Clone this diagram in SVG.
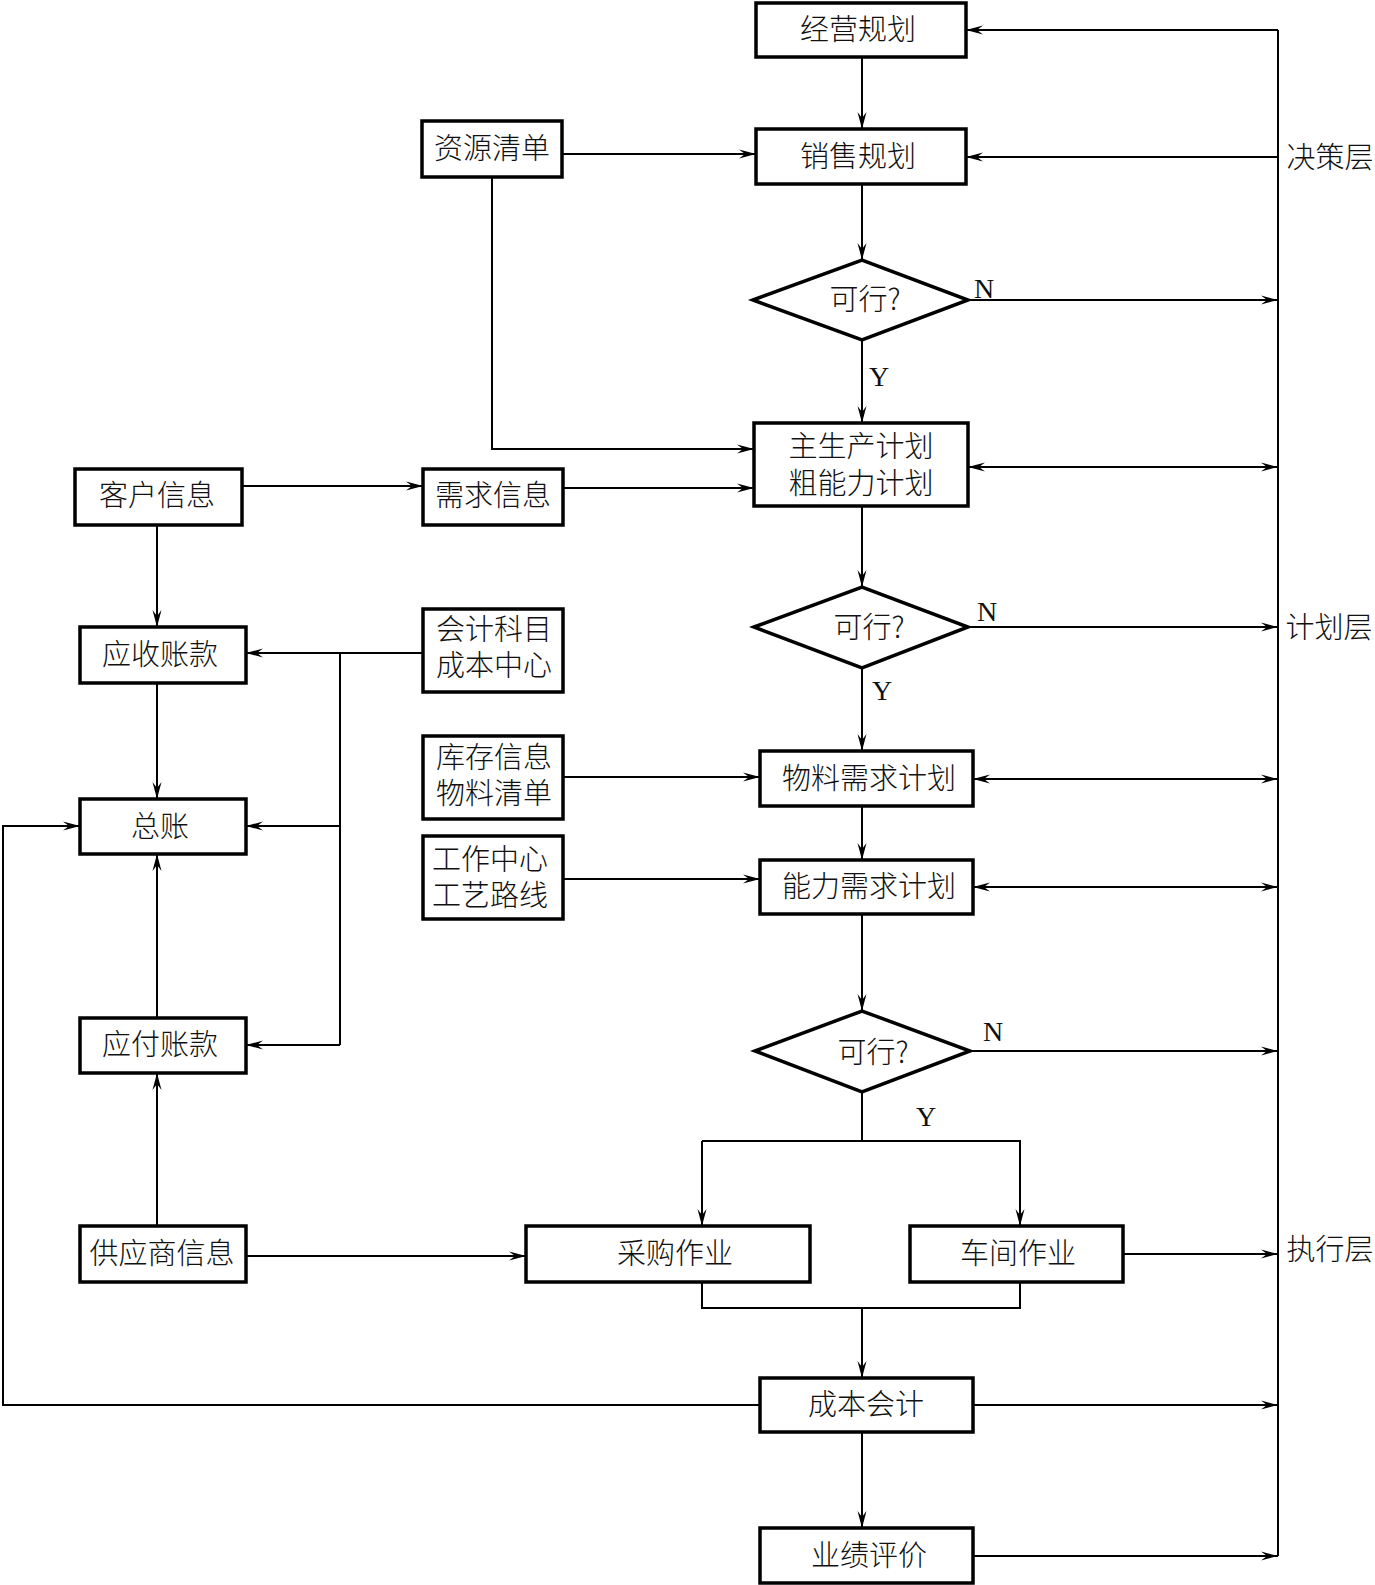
<svg xmlns="http://www.w3.org/2000/svg" width="1375" height="1585" viewBox="0 0 1375 1585">
<style>
.box{fill:#fff;stroke:#000;stroke-width:3.5}
.t{font-family:"Noto Sans CJK SC","Noto Sans",sans-serif;font-size:29px;font-weight:300;text-anchor:middle;fill:#111}
.l{font-family:"Liberation Serif",serif;font-size:28px;fill:#111}
.c{fill:none;stroke:#000;stroke-width:2}
.a{marker-end:url(#ah)}
.d{marker-start:url(#ah);marker-end:url(#ah)}
</style>
<defs>
<marker id="ah" markerUnits="userSpaceOnUse" markerWidth="20" markerHeight="12" viewBox="-18 -6 20 12" refX="0" refY="0" orient="auto-start-reverse">
<path d="M0,0 L-17,-4.5 L-11,0 L-17,4.5 Z" fill="#000"/>
</marker>
</defs>
<rect width="1375" height="1585" fill="#fff"/>
<g id="connectors">
<path class="c" d="M1278,30 V1556"/>
<path class="c a" d="M1278,30 H966"/>
<path class="c a" d="M1278,157 H966"/>
<path class="c a" d="M862,57 V129"/>
<path class="c a" d="M562,154 H756"/>
<path class="c a" d="M492,177 V449 H754"/>
<path class="c a" d="M862,184 V260"/>
<path class="c a" d="M968,300 H1278"/>
<path class="c a" d="M862,340 V423"/>
<path class="c a" d="M242,486 H423"/>
<path class="c a" d="M563,488 H754"/>
<path class="c d" d="M968,467 H1278"/>
<path class="c a" d="M862,506 V587"/>
<path class="c a" d="M968,627 H1278"/>
<path class="c a" d="M862,668 V751"/>
<path class="c a" d="M563,777 H760"/>
<path class="c d" d="M973,779 H1278"/>
<path class="c a" d="M862,806 V860"/>
<path class="c a" d="M563,879 H760"/>
<path class="c d" d="M973,887 H1278"/>
<path class="c a" d="M862,914 V1011"/>
<path class="c a" d="M970,1051 H1278"/>
<path class="c" d="M862,1092 V1141"/>
<path class="c a" d="M702,1141 V1226"/>
<path class="c a" d="M702,1141 H1020 V1226"/>
<path class="c a" d="M1123,1254 H1278"/>
<path class="c" d="M702,1282 V1308 H1020 V1282"/>
<path class="c a" d="M862,1308 V1378"/>
<path class="c a" d="M973,1405 H1278"/>
<path class="c a" d="M760,1405 H3 V826 H80"/>
<path class="c a" d="M862,1432 V1528"/>
<path class="c a" d="M973,1556 H1278"/>
<path class="c a" d="M157,525 V627"/>
<path class="c a" d="M157,683 V799"/>
<path class="c a" d="M157,1018 V854"/>
<path class="c a" d="M157,1226 V1073"/>
<path class="c a" d="M246,1256 H526"/>
<path class="c a" d="M423,653 H246"/>
<path class="c" d="M340,653 V1045"/>
<path class="c a" d="M340,826 H246"/>
<path class="c a" d="M340,1045 H246"/>
</g>
<g id="labels">
<text class="l" x="974" y="298">N</text>
<text class="l" x="869" y="386">Y</text>
<text class="l" x="977" y="621">N</text>
<text class="l" x="872" y="700">Y</text>
<text class="l" x="983" y="1041">N</text>
<text class="l" x="916" y="1126">Y</text>
</g>
<g id="n-jyjh"><rect class="box" x="756" y="3" width="210" height="54"/><text class="t" x="858" y="40">经营规划</text></g>
<g id="n-xsjh"><rect class="box" x="756" y="129" width="210" height="55"/><text class="t" x="858" y="167">销售规划</text></g>
<g id="n-kx1"><polygon class="box" points="753,300 862,260 968,300 862,340"/><text class="t" x="865" y="310">可行?</text></g>
<g id="n-zsc"><rect class="box" x="754" y="423" width="214" height="83"/><text class="t" x="861" y="457">主生产计划<tspan x="861" dy="37">粗能力计划</tspan></text></g>
<g id="n-kx2"><polygon class="box" points="754,627 862,587 968,627 862,668"/><text class="t" x="869" y="638">可行?</text></g>
<g id="n-wl"><rect class="box" x="760" y="751" width="213" height="55"/><text class="t" x="869" y="789">物料需求计划</text></g>
<g id="n-nl"><rect class="box" x="760" y="860" width="213" height="54"/><text class="t" x="869" y="897">能力需求计划</text></g>
<g id="n-kx3"><polygon class="box" points="755,1051 862,1011 970,1051 862,1092"/><text class="t" x="873" y="1063">可行?</text></g>
<g id="n-cg"><rect class="box" x="526" y="1226" width="284" height="56"/><text class="t" x="675" y="1264">采购作业</text></g>
<g id="n-cj"><rect class="box" x="910" y="1226" width="213" height="56"/><text class="t" x="1018" y="1264">车间作业</text></g>
<g id="n-cbkj"><rect class="box" x="760" y="1378" width="213" height="54"/><text class="t" x="866" y="1415">成本会计</text></g>
<g id="n-yjpj"><rect class="box" x="760" y="1528" width="213" height="55"/><text class="t" x="869" y="1566">业绩评价</text></g>
<g id="n-zyqd"><rect class="box" x="422" y="121" width="140" height="56"/><text class="t" x="492" y="159">资源清单</text></g>
<g id="n-khxx"><rect class="box" x="75" y="469" width="167" height="56"/><text class="t" x="157" y="506">客户信息</text></g>
<g id="n-xqxx"><rect class="box" x="423" y="469" width="140" height="56"/><text class="t" x="493" y="506">需求信息</text></g>
<g id="n-yszk"><rect class="box" x="80" y="627" width="166" height="56"/><text class="t" x="160" y="665">应收账款</text></g>
<g id="n-kjkm"><rect class="box" x="423" y="609" width="140" height="83"/><text class="t" x="494" y="640">会计科目<tspan x="494" dy="36">成本中心</tspan></text></g>
<g id="n-kcxx"><rect class="box" x="423" y="736" width="140" height="83"/><text class="t" x="494" y="768">库存信息<tspan x="494" dy="36">物料清单</tspan></text></g>
<g id="n-gzzx"><rect class="box" x="423" y="836" width="140" height="83"/><text class="t" x="490" y="870">工作中心<tspan x="490" dy="36">工艺路线</tspan></text></g>
<g id="n-zz"><rect class="box" x="80" y="799" width="166" height="55"/><text class="t" x="160" y="837">总账</text></g>
<g id="n-yfzk"><rect class="box" x="80" y="1018" width="166" height="55"/><text class="t" x="160" y="1055">应付账款</text></g>
<g id="n-gys"><rect class="box" x="80" y="1226" width="166" height="56"/><text class="t" x="162" y="1264">供应商信息</text></g>
<g id="layers">
<text class="t" x="1330" y="168">决策层</text>
<text class="t" x="1329" y="638">计划层</text>
<text class="t" x="1330" y="1260">执行层</text>
</g>
</svg>
